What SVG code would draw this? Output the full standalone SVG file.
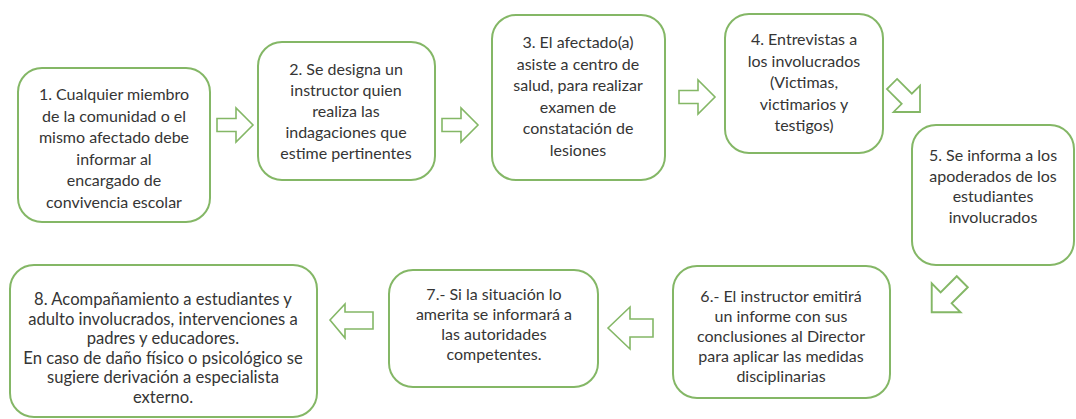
<svg xmlns="http://www.w3.org/2000/svg" width="1076" height="419" viewBox="0 0 1076 419">
<style>
.box{fill:#ffffff;stroke:#84b766;stroke-width:2}
.arr{fill:#ffffff;stroke:#84b766;stroke-width:1.6;stroke-linejoin:miter}
text{font-family:Lato,"Open Sans","Liberation Sans",sans-serif;font-size:16px;fill:#353535;text-anchor:middle}
.big{font-size:16.6px}
</style>
<defs>
<path id="ra" d="M-18,-6.5 L1,-6.5 L1,-17 L18,0 L1,17 L1,6.5 L-18,6.5 Z"/>
</defs>
<rect width="1076" height="419" fill="#ffffff"/>
<g id="connectors">
<use href="#ra" class="arr" transform="translate(235,125)"/>
<use href="#ra" class="arr" transform="translate(460,125)"/>
<use href="#ra" class="arr" transform="translate(697,97)"/>
<use href="#ra" class="arr" transform="translate(906,98) rotate(45) scale(1.1)"/>
<use href="#ra" class="arr" transform="translate(947,297) rotate(135) scale(1.2)"/>
<path class="arr" d="M608,328 L630,307 L630,319 L653,319 L653,337 L630,337 L630,349 Z"/>
<path class="arr" d="M330,320 L345,304 L345,312 L373,312 L373,329 L345,329 L345,338 Z"/>
</g>
<g id="node1">
<rect class="box" x="18" y="68" width="192" height="154" rx="24"/>
<text x="114" y="100">1. Cualquier miembro</text>
<text x="114" y="121.5">de la comunidad o el</text>
<text x="114" y="143">mismo afectado debe</text>
<text x="114" y="164.5">informar al</text>
<text x="114" y="186">encargado de</text>
<text x="114" y="207.5">convivencia escolar</text>
</g>
<g id="node2">
<rect class="box" x="258" y="42" width="177" height="138" rx="24"/>
<text x="346" y="75">2. Se designa un</text>
<text x="346" y="96">instructor quien</text>
<text x="346" y="117">realiza las</text>
<text x="346" y="138">indagaciones que</text>
<text x="346" y="159">estime pertinentes</text>
</g>
<g id="node3">
<rect class="box" x="492" y="15" width="173" height="165" rx="24"/>
<text x="578" y="48">3. El afectado(a)</text>
<text x="578" y="69.5">asiste a centro de</text>
<text x="578" y="91">salud, para realizar</text>
<text x="578" y="112.5">examen de</text>
<text x="578" y="134">constatación de</text>
<text x="578" y="155.5">lesiones</text>
</g>
<g id="node4">
<rect class="box" x="725" y="14" width="158" height="139" rx="24"/>
<text x="804" y="45">4. Entrevistas a</text>
<text x="804" y="66.5">los involucrados</text>
<text x="804" y="88">(Victimas,</text>
<text x="804" y="109.5">victimarios y</text>
<text x="804" y="131">testigos)</text>
</g>
<g id="node5">
<rect class="box" x="912" y="125" width="162" height="140" rx="24"/>
<text x="993" y="161">5. Se informa a los</text>
<text x="993" y="181.5">apoderados de los</text>
<text x="993" y="202">estudiantes</text>
<text x="993" y="222.5">involucrados</text>
</g>
<g id="node6">
<rect class="box" x="673" y="266" width="217" height="132" rx="24"/>
<text x="781" y="302">6.- El instructor emitirá</text>
<text x="781" y="322">un informe con sus</text>
<text x="781" y="342">conclusiones al Director</text>
<text x="781" y="362">para aplicar las medidas</text>
<text x="781" y="382">disciplinarias</text>
</g>
<g id="node7">
<rect class="box" x="389" y="270" width="209" height="117" rx="24"/>
<text x="494" y="300">7.- Si la situación lo</text>
<text x="494" y="320">amerita se informará a</text>
<text x="494" y="340">las autoridades</text>
<text x="494" y="360">competentes.</text>
</g>
<g id="node8">
<rect class="box" x="10" y="265" width="307" height="152" rx="24"/>
<text class="big" x="163" y="305">8. Acompañamiento a estudiantes y</text>
<text class="big" x="163" y="324.5">adulto involucrados, intervenciones a</text>
<text class="big" x="163" y="344">padres y educadores.</text>
<text class="big" x="163" y="363.5">En caso de daño físico o psicológico se</text>
<text class="big" x="163" y="383">sugiere derivación a especialista</text>
<text class="big" x="163" y="402.5">externo.</text>
</g>
</svg>
